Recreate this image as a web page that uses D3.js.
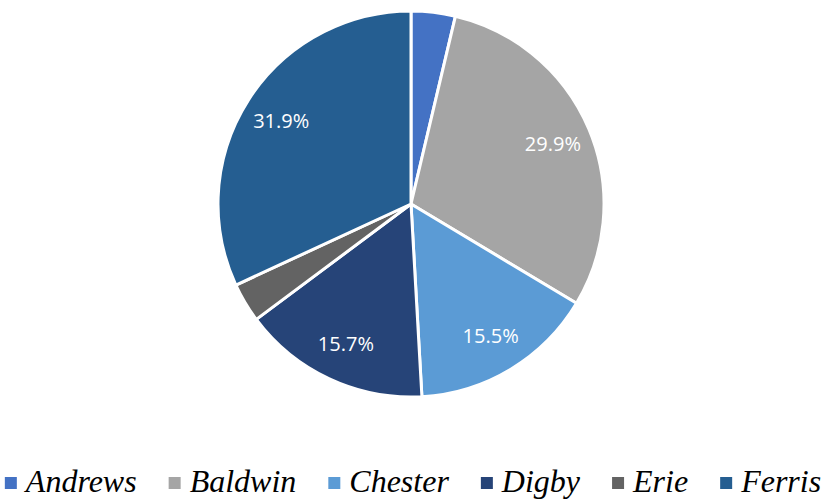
<!DOCTYPE html>
<html>
<head>
<meta charset="utf-8">
<script src="https://cdn.jsdelivr.net/npm/d3@7"></script>
<style>
  html, body { margin: 0; padding: 0; background: #fff; }
  svg { display: block; }
</style>
</head>
<body>
<svg id="chart" width="826" height="500"></svg>
<script>
// Market share by company (percent)
const companies = ["Andrews", "Baldwin", "Chester", "Digby", "Erie", "Ferris"];
const shares = [3.7, 29.9, 15.5, 15.7, 3.3, 31.9];
const colors = ["#4472C4", "#A5A5A5", "#5B9BD5", "#264478", "#636363", "#255E91"];
// Slices that carry a percentage label
const labelled = [false, true, true, true, false, true];

const svg = d3.select("#chart");
const cx = 411, cy = 204, radius = 193, labelRadius = 154;

const data = companies.map((name, i) => ({ name, value: shares[i], color: colors[i], show: labelled[i] }));

const pie = d3.pie().value(d => d.value).sort(null);
const arc = d3.arc().innerRadius(0).outerRadius(radius);
const labelArc = d3.arc().innerRadius(labelRadius).outerRadius(labelRadius);

const g = svg.append("g").attr("transform", `translate(${cx},${cy})`);
const arcs = pie(data);

g.selectAll("path.slice")
  .data(arcs)
  .join("path")
  .attr("class", "slice")
  .attr("d", arc)
  .attr("fill", d => d.data.color)
  .attr("stroke", "#fff")
  .attr("stroke-width", 3)
  .attr("stroke-linejoin", "round");

g.selectAll("text.pct")
  .data(arcs.filter(d => d.data.show))
  .join("text")
  .attr("class", "pct")
  .attr("transform", d => `translate(${labelArc.centroid(d)})`)
  .attr("text-anchor", "middle")
  .attr("dy", "0.36em")
  .attr("fill", "#fff")
  .style("font-family", "\"Open Sans\", sans-serif")
  .style("font-size", "20px")
  .text(d => d.data.value.toFixed(1) + "%");

// Legend along the bottom, centred horizontally
const legend = svg.append("g");
const sq = 12, gapSq = 9, gapItem = 32, baseY = 492;
let x = 0;
const items = legend.selectAll("g.item").data(data).join("g").attr("class", "item");
items.append("rect")
  .attr("width", sq).attr("height", sq)
  .attr("y", baseY - 15)
  .attr("fill", d => d.color);
items.append("text")
  .attr("x", sq + gapSq)
  .attr("y", baseY)
  .attr("fill", "#000")
  .style("font-family", "\"Liberation Serif\", \"Times New Roman\", serif")
  .style("font-style", "italic")
  .style("font-size", "32px")
  .text(d => d.name);
items.each(function () {
  const w = d3.select(this).select("text").node().getComputedTextLength();
  d3.select(this).attr("transform", `translate(${x},0)`);
  x += sq + gapSq + w + gapItem;
});
const total = x - gapItem;
legend.attr("transform", `translate(${(826 - total) / 2},0)`);
</script>
</body>
</html>
